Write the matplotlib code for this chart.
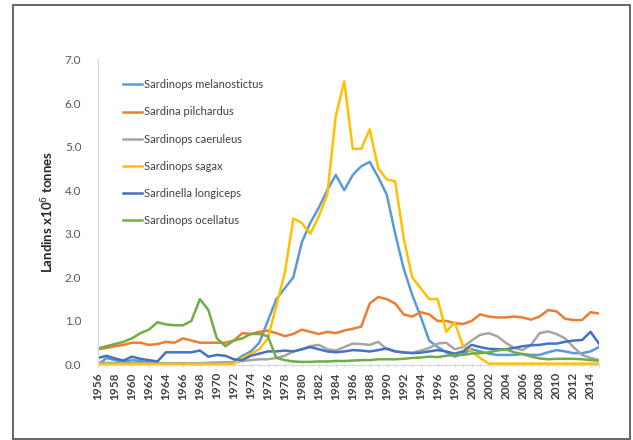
import numpy as np
import matplotlib
matplotlib.use("Agg")
import matplotlib.pyplot as plt
from matplotlib.patches import Rectangle

plt.rcParams['font.family'] = ['Lato', 'DejaVu Sans']

years = np.arange(1956, 2016)

melanostictus = [0.00, 0.15, 0.10, 0.05, 0.10, 0.08, 0.05, 0.02, 0.01, 0.01,
                 0.01, 0.01, 0.01, 0.01, 0.02, 0.04, 0.06, 0.20, 0.30, 0.50,
                 1.00, 1.50, 1.75, 2.00, 2.80, 3.25, 3.60, 4.00, 4.35, 4.00,
                 4.35, 4.55, 4.65, 4.30, 3.90, 3.00, 2.20, 1.60, 1.10, 0.55,
                 0.40, 0.28, 0.18, 0.25, 0.35, 0.30, 0.25, 0.22, 0.22, 0.22,
                 0.24, 0.22, 0.22, 0.28, 0.33, 0.30, 0.26, 0.26, 0.30, 0.40]

pilchardus = [0.35, 0.38, 0.42, 0.45, 0.50, 0.50, 0.45, 0.47, 0.52, 0.50,
              0.60, 0.55, 0.50, 0.50, 0.50, 0.50, 0.55, 0.72, 0.70, 0.75,
              0.78, 0.72, 0.65, 0.70, 0.80, 0.75, 0.70, 0.75, 0.72, 0.78,
              0.82, 0.87, 1.40, 1.55, 1.50, 1.40, 1.15, 1.10, 1.20, 1.15,
              1.00, 1.00, 0.95, 0.93, 1.00, 1.15, 1.10, 1.08, 1.08, 1.10,
              1.08, 1.03, 1.10, 1.25, 1.22, 1.05, 1.02, 1.02, 1.20, 1.17]

caeruleus = [0.04, 0.04, 0.03, 0.03, 0.03, 0.03, 0.03, 0.03, 0.03, 0.03,
             0.03, 0.03, 0.03, 0.04, 0.05, 0.05, 0.05, 0.08, 0.10, 0.12,
             0.12, 0.15, 0.20, 0.30, 0.35, 0.42, 0.45, 0.35, 0.32, 0.40,
             0.48, 0.47, 0.45, 0.52, 0.35, 0.30, 0.27, 0.27, 0.32, 0.38,
             0.48, 0.50, 0.35, 0.40, 0.55, 0.68, 0.72, 0.65, 0.50, 0.38,
             0.33, 0.45, 0.72, 0.76, 0.70, 0.60, 0.40, 0.22, 0.15, 0.10]

sagax = [0.01, 0.01, 0.01, 0.01, 0.01, 0.01, 0.01, 0.01, 0.01, 0.01,
         0.01, 0.01, 0.01, 0.01, 0.01, 0.01, 0.02, 0.15, 0.25, 0.35,
         0.60, 1.35, 2.10, 3.35, 3.25, 3.00, 3.40, 3.90, 5.70, 6.50,
         4.95, 4.95, 5.40, 4.50, 4.25, 4.20, 2.90, 2.00, 1.75, 1.50,
         1.50, 0.75, 0.97, 0.42, 0.30, 0.15, 0.02, 0.02, 0.02, 0.02,
         0.02, 0.02, 0.02, 0.02, 0.02, 0.02, 0.02, 0.02, 0.02, 0.02]

longiceps = [0.15, 0.20, 0.14, 0.09, 0.18, 0.13, 0.10, 0.07, 0.28, 0.28,
             0.28, 0.28, 0.32, 0.18, 0.22, 0.20, 0.12, 0.10, 0.20, 0.25,
             0.30, 0.30, 0.32, 0.30, 0.35, 0.40, 0.35, 0.30, 0.28, 0.30,
             0.33, 0.32, 0.30, 0.33, 0.37, 0.30, 0.28, 0.26, 0.27, 0.30,
             0.33, 0.30, 0.25, 0.30, 0.45, 0.40, 0.36, 0.35, 0.35, 0.38,
             0.42, 0.44, 0.45, 0.48, 0.48, 0.52, 0.55, 0.56, 0.75, 0.48]

ocellatus = [0.37, 0.42, 0.47, 0.52, 0.60, 0.72, 0.80, 0.97, 0.92, 0.90,
             0.90, 1.00, 1.50, 1.25, 0.60, 0.42, 0.55, 0.60, 0.70, 0.70,
             0.65, 0.15, 0.10, 0.07, 0.06, 0.06, 0.07, 0.07, 0.08, 0.08,
             0.09, 0.10, 0.10, 0.12, 0.12, 0.12, 0.13, 0.15, 0.16, 0.18,
             0.17, 0.20, 0.22, 0.22, 0.25, 0.26, 0.28, 0.32, 0.35, 0.28,
             0.24, 0.18, 0.14, 0.12, 0.13, 0.13, 0.13, 0.12, 0.10, 0.09]

series = [("Sardinops melanostictus", melanostictus, "#5B9BD5"),
          ("Sardina pilchardus", pilchardus, "#ED7D31"),
          ("Sardinops caeruleus", caeruleus, "#A5A5A5"),
          ("Sardinops sagax", sagax, "#FFC000"),
          ("Sardinella longiceps", longiceps, "#4472C4"),
          ("Sardinops ocellatus", ocellatus, "#70AD47")]

fig = plt.figure(figsize=(6.33, 4.4), dpi=100)
ax = fig.add_axes([98 / 633, 75.5 / 440, 501 / 633, 305 / 440])

for name, vals, col in series:
    ax.plot(years, vals, color=col, lw=1.8, label=name, solid_joinstyle='round')

ax.set_xlim(1956, 2015)
ax.set_ylim(0, 7)
ax.set_yticks(np.arange(0, 7.5, 1.0))
ax.set_yticklabels([f"{v:.1f}" for v in np.arange(0, 7.5, 1.0)])
ax.set_xticks(years[::2])
ax.set_xticklabels([str(y) for y in years[::2]], rotation=90)
ax.set_xticks(years, minor=True)

for s in ['top', 'right']:
    ax.spines[s].set_visible(False)
for s in ['left', 'bottom']:
    ax.spines[s].set_color('#D9D9D9')
    ax.spines[s].set_linewidth(0.9)

ax.tick_params(axis='y', length=0, labelsize=8.5, labelcolor='#595959', pad=12)
ax.tick_params(axis='x', which='both', length=3, color='#D9D9D9', direction='inout',
               labelsize=8.5, labelcolor='#404040', pad=4)
for lab in ax.get_xticklabels():
    lab.set_fontweight('bold')

ax.set_ylabel("Landins x10$^6$ tonnes", fontsize=9.5, fontweight='bold',
              color='#262626', labelpad=6)

ax.legend(loc='upper left', bbox_to_anchor=(0.05, 0.935), frameon=False,
          fontsize=8, handlelength=1.7, handletextpad=0.15, labelspacing=1.45,
          borderpad=0, borderaxespad=0, labelcolor='#404040')

fig.patches.append(Rectangle((13 / 633, 1 - 439 / 440), 617 / 633, 434 / 440,
                             transform=fig.transFigure, fill=False,
                             edgecolor='#595959', linewidth=1.3))

fig.savefig("out.png", dpi=100)
